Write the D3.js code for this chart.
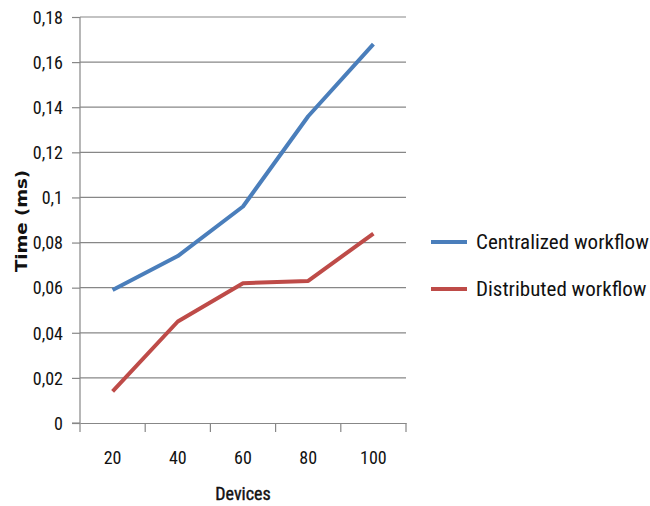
<!DOCTYPE html>
<html><head><meta charset="utf-8">
<script src="https://d3js.org/d3.v7.min.js"></script>
<style>
body{margin:0;background:#fff;}
text{font-family:"Liberation Sans Narrow","Roboto Condensed","DejaVu Sans Condensed","Liberation Sans",sans-serif;}
</style></head>
<body><svg id="c" width="650" height="506"></svg>
<script>
const categories = ["20","40","60","80","100"];
const centralized = [0.059,0.074,0.096,0.136,0.168];
const distributed = [0.014,0.045,0.062,0.063,0.084];
const yTicks = [0,0.02,0.04,0.06,0.08,0.1,0.12,0.14,0.16,0.18];
const seriesNames = ["Centralized workflow","Distributed workflow"];
const colors = ["#4a7ebb","#be4b48"];

const svg = d3.select("#c");
const L=80,R=406,T=17,B=423;
const x = d3.scaleBand().domain(categories).range([L,R]);
const y = d3.scaleLinear().domain([0,0.18]).range([B,T]);
const fmt = v => String(v).replace(".",",");

// grid
svg.append("g").selectAll("line").data(yTicks.filter(d=>d>0)).join("line")
  .attr("x1",L).attr("x2",R).attr("y1",d=>y(d)).attr("y2",d=>y(d))
  .attr("stroke","#878787").attr("stroke-width",1.2);

// y axis
const ya = svg.append("g").attr("transform",`translate(${L},0)`)
  .call(d3.axisLeft(y).tickValues(yTicks).tickFormat(fmt).tickSize(8).tickPadding(9));
ya.select(".domain").attr("stroke","#878787").attr("stroke-width",1.2).attr("d",`M-8,${B}H0V${T}`);
ya.selectAll(".tick line").attr("stroke","#878787").attr("stroke-width",1.2);
ya.selectAll(".tick text").attr("font-size",18).attr("fill","#111").attr("dy","0.35em");

// x axis
const xa = svg.append("g").attr("transform",`translate(0,${B})`)
  .call(d3.axisBottom(x).tickSize(0).tickPadding(28));
xa.select(".domain").attr("stroke","#878787").attr("stroke-width",1.2);
xa.selectAll(".tick text").attr("font-size",18).attr("fill","#111");
const bounds = categories.map(c=>x(c)).concat([R]);
xa.append("g").selectAll("line").data(bounds).join("line")
  .attr("x1",d=>d).attr("x2",d=>d).attr("y1",0).attr("y2",9)
  .attr("stroke","#878787").attr("stroke-width",1.2);

// lines
const line = d3.line().x((d,i)=>x(categories[i])+x.bandwidth()/2).y(d=>y(d));
[centralized,distributed].forEach((s,i)=>{
  svg.append("path").attr("d",line(s)).attr("fill","none")
    .attr("stroke",colors[i]).attr("stroke-width",4).attr("stroke-linejoin","round");
});

// titles
svg.append("text").attr("x",243).attr("y",500).attr("text-anchor","middle")
  .attr("font-size",18).attr("fill","#111").attr("stroke","#111").attr("stroke-width",0.4).text("Devices");
svg.append("text").attr("transform","translate(27,221) rotate(-90)").attr("text-anchor","middle")
  .attr("font-size",15).attr("font-weight","bold").attr("fill","#111")
  .style("font-family","'DejaVu Sans',sans-serif")
  .attr("textLength",102).attr("lengthAdjust","spacingAndGlyphs").text("Time (ms)");

// legend
const lg = svg.append("g");
seriesNames.forEach((n,i)=>{
  const yy = 242 + i*47;
  lg.append("line").attr("x1",431).attr("x2",467).attr("y1",yy).attr("y2",yy)
    .attr("stroke",colors[i]).attr("stroke-width",4);
  lg.append("text").attr("x",476).attr("y",yy+7).attr("font-size",21).attr("fill","#111").text(n);
});
</script></body></html>
